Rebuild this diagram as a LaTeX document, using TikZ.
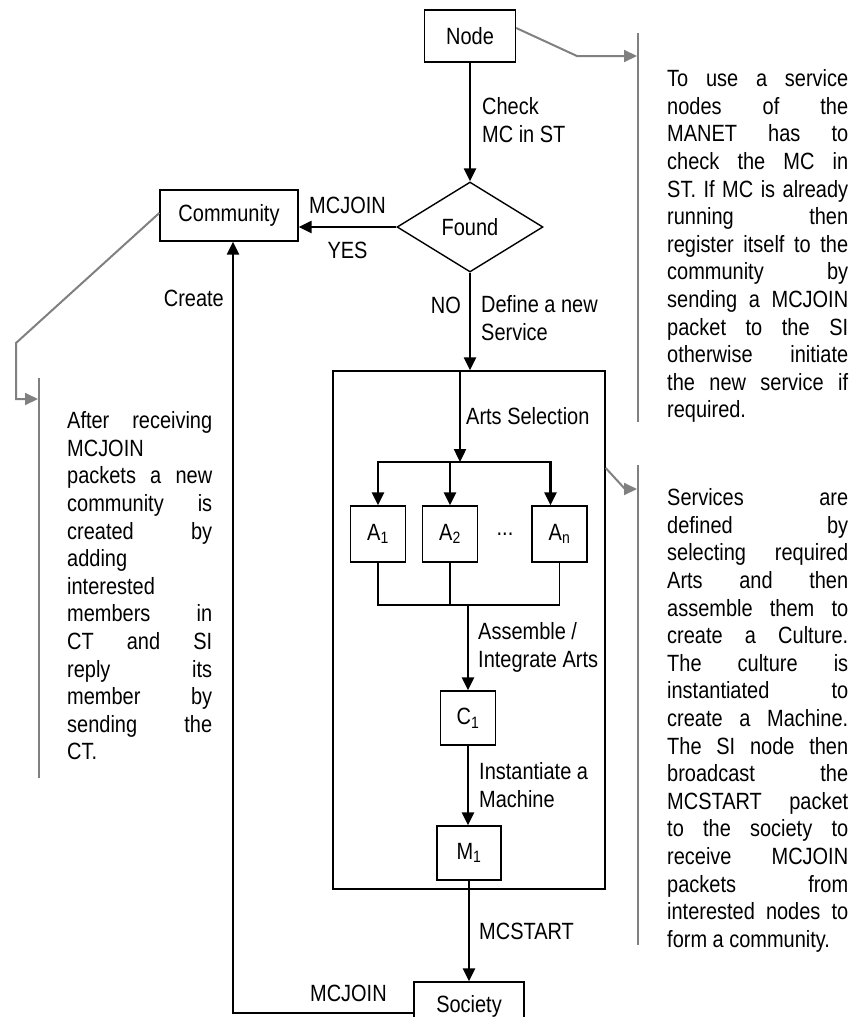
\documentclass[tikz,border=0pt]{standalone}
\usepackage{fontspec}
\setmainfont{Liberation Sans}[FakeStretch=0.85]
\usetikzlibrary{arrows.meta, shapes.geometric}
\definecolor{notegray}{rgb}{0.5,0.5,0.5}
\newcommand\notefont{\fontsize{23.5bp}{27.6bp}\selectfont
  \tolerance=10000\relax\hbadness=10000\relax\hyphenpenalty=10000\relax}

\begin{document}
\begin{tikzpicture}[
  x=1bp, y=-1bp,
  >={Triangle[length=13bp, width=12bp]},
  every node/.style={font=\fontsize{23.5bp}{28bp}\selectfont},
  flowbox/.style={rectangle, draw=black, line width=1.4bp, inner sep=0pt},
  artbox/.style={flowbox, minimum width=55bp, minimum height=56bp},
  decision/.style={diamond, draw=black, line width=1.4bp, minimum width=146bp, minimum height=90bp, inner sep=0pt},
  servicebox/.style={rectangle, draw=black, line width=1.4bp, minimum width=272bp, minimum height=518bp},
  flow/.style={->, line width=2.4bp},
  wire/.style={-, line width=1.3bp},
  pointer/.style={->, line width=2bp, notegray},
  notebar/.style={-, line width=2bp, notegray},
  note/.style={anchor=north west, inner sep=0pt, align=justify, font=\notefont},
  lbl/.style={inner sep=0pt, align=left},
]
\useasboundingbox (0,0) rectangle (849,1017);

% ---- main flow boxes ----
\node[flowbox, minimum width=91bp, minimum height=52bp] (nodebox) at (470,36) {Node};
\node[decision] (found) at (470,227) {Found};
\node[flowbox, minimum width=138bp, minimum height=51bp] (community) at (229,215.5) {Community};
\node[servicebox] (service) at (469,630) {};
\node[flowbox, minimum width=110bp, minimum height=48bp] (society) at (469,1006) {Society};
% ---- arts, culture, machine ----
\node[artbox] (a1) at (378,534) {A\textsubscript{1}};
\node[artbox] (a2) at (450,534) {A\textsubscript{2}};
\node[artbox] (an) at (559.5,534) {A\textsubscript{n}};
\node (dots) at (505,534) {...};
\node[flowbox, minimum width=55bp, minimum height=54bp] (c1) at (468,718) {C\textsubscript{1}};
\node[flowbox, minimum width=64bp, minimum height=54bp] (m1) at (469,853) {M\textsubscript{1}};

% ---- helper points ----
\coordinate (split) at (460,462);
\coordinate (join) at (468,605);
\coordinate (corner) at (233,1013);
\coordinate (anin) at ([xshift=-9bp]an.north);

% ---- flow arrows ----
\draw[flow] (nodebox) -- node[lbl, right=11bp, pos=0.48] {Check\\MC in ST} (found);
\draw[flow] (found.west) -- node[lbl, above=12bp] {MCJOIN} node[lbl, below=14bp] {YES} (found.west -| community.east);
\draw[flow] (found.south) -- node[lbl, left=8bp, pos=0.33] {NO}
  node[lbl, right=10bp, pos=0.47] {Define a new\\Service} (found.south |- service.north);
\draw[flow] (service.north -| split) -- node[lbl, right=5bp] {Arts Selection} (split);
\draw[flow, <->] (a1.north) -- (a1.north |- split) -- (anin |- split) -- (anin);
\draw[flow] (a2.north |- split) -- (a2.north);
\draw[wire] (a1.south) -- (a1.south |- join) -- (an.south |- join) -- (an.south);
\draw[wire] (a2.south) -- (a2.south |- join);
\draw[flow] (join) -- node[lbl, right=9bp] {Assemble /\\Integrate Arts} (c1.north -| join);
\draw[flow] (c1.south) -- node[lbl, right=10bp] {Instantiate a\\Machine} (c1.south |- m1.north);
\draw[flow] (m1.south) -- node[lbl, right=9bp] {MCSTART} (m1.south |- society.north);
\draw[flow] (society.west |- corner) -- node[lbl, above=10bp, pos=0.36] {MCJOIN} (corner)
  -- node[lbl, left=8bp, pos=0.927] {Create} (community.south -| corner);

% ---- notes ----
\node[note, text width=181bp] (usenote) at (667,69.5) {To use a service\linebreak
  nodes of the\linebreak MANET has to\linebreak check the MC in\linebreak
  ST. If MC is already\linebreak running then\linebreak register itself to the\linebreak
  community by\linebreak sending a MCJOIN\linebreak packet to the SI\linebreak
  otherwise initiate\linebreak the new service if\linebreak required.};
\node[note, text width=181bp] (defnote) at (667,488.5) {Services are\linebreak
  defined by\linebreak selecting required\linebreak Arts and then\linebreak
  assemble them to\linebreak create a Culture.\linebreak The culture is\linebreak
  instantiated to\linebreak create a Machine.\linebreak The SI node then\linebreak
  broadcast the\linebreak MCSTART packet\linebreak to the society to\linebreak
  receive MCJOIN\linebreak packets from\linebreak interested nodes to\linebreak
  form a community.};
\node[note, text width=145bp] (joinnote) at (67,411.5) {After receiving\linebreak
  MCJOIN\linebreak packets a new\linebreak community is\linebreak created by\linebreak
  adding\linebreak interested\linebreak members in\linebreak CT and SI\linebreak
  reply its\linebreak member by\linebreak sending the\linebreak CT.};

% ---- note bars and pointers ----
\draw[notebar] (638,33) -- (638,422);
\draw[notebar] (638,465) -- (638,945);
\draw[notebar] (39,378) -- (39,778);
\coordinate (usebend) at (577,56);
\coordinate (usetip) at (637,56);
\coordinate (defbend) at (625,489);
\coordinate (deftip) at (637,489);
\coordinate (joinbend) at (16,343);
\coordinate (joinelbow) at (16,399);
\coordinate (jointip) at (38,399);
\draw[pointer] (nodebox.east |- 0,28) -- (usebend) -- (usetip);
\draw[pointer] (service.east |- 0,468) -- (defbend) -- (deftip);
\draw[pointer] (community.west |- 0,213) -- (joinbend) -- (joinelbow) -- (jointip);

\end{tikzpicture}
\end{document}
